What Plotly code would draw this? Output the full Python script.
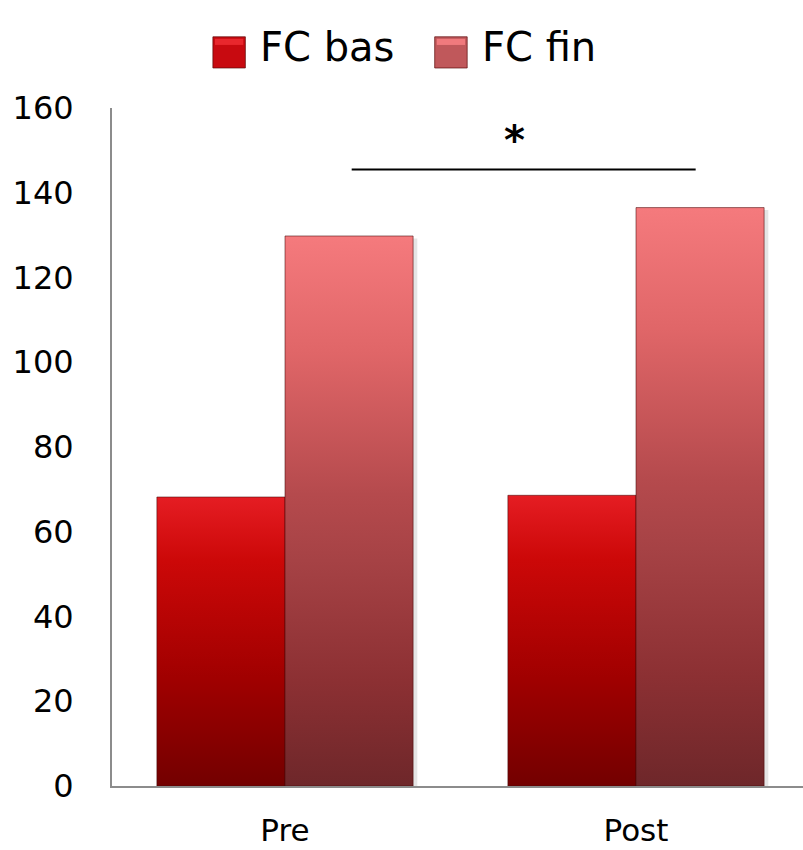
import plotly.graph_objects as go

# --- data -------------------------------------------------------------
categories = ["Pre", "Post"]
series_names = ["FC bas", "FC fin"]
fc_bas = [68.2, 68.6]
fc_fin = [129.8, 136.5]
y_ticks = [0, 20, 40, 60, 80, 100, 120, 140, 160]

# significance bracket between the two "FC fin" groups
sig_x = [0.19, 1.17]
sig_y = 145.5
sig_label = "*"

# --- styling ----------------------------------------------------------
FONT = "DejaVu Sans"
BAR_W = 0.365
bas_scale = [[0.0, "#730000"], [0.37, "#a00000"], [0.78, "#cc0808"], [1.0, "#e51d23"]]
fin_scale = [[0.0, "#6e272a"], [0.19, "#8c3033"], [0.41, "#a64245"], [0.53, "#b54a4d"],
             [0.79, "#e06668"], [1.0, "#f57a7d"]]
EDGE = "rgba(70,10,10,0.55)"
AXIS = "#8c8c8c"

fig = go.Figure()


def add_bar(x0, x1, value, scale):
    # soft drop shadow
    fig.add_trace(go.Scatter(
        x=[x0 + 0.012, x0 + 0.012, x1 + 0.012, x1 + 0.012, x0 + 0.012],
        y=[0, value - 0.6, value - 0.6, 0, 0],
        mode="lines", fill="toself", fillcolor="rgba(0,0,0,0.10)",
        line=dict(width=0), hoverinfo="skip", showlegend=False))
    fig.add_trace(go.Scatter(
        x=[x0, x0, x1, x1, x0], y=[0, value, value, 0, 0],
        mode="lines", fill="toself",
        fillgradient=dict(type="vertical", colorscale=scale, start=0, stop=value),
        line=dict(color=EDGE, width=1), hoverinfo="skip", showlegend=False))


for i, cat in enumerate(categories):
    add_bar(i - BAR_W, i, fc_bas[i], bas_scale)
    add_bar(i, i + BAR_W, fc_fin[i], fin_scale)

# significance bracket
fig.add_shape(type="line", xref="x", yref="y", x0=sig_x[0], x1=sig_x[1],
              y0=sig_y, y1=sig_y, line=dict(color="black", width=2))
fig.add_annotation(x=0.655, y=sig_y + 1, xref="x", yref="y",
                   text="<b>" + sig_label + "</b>", showarrow=False, yanchor="bottom",
                   font=dict(family=FONT, size=40, color="black"))

# legend drawn as swatches + labels above the plot
legend_items = [
    (series_names[0], 0.146, "#c80a10", "#e8272d"),
    (series_names[1], 0.467, "#c0585b", "#f07a7d"),
]
for name, x0, col, top in legend_items:
    fig.add_shape(type="rect", xref="paper", yref="paper", x0=x0, x1=x0 + 0.047,
                  y0=1.059, y1=1.105, fillcolor=col, line=dict(color="rgba(90,10,10,0.7)", width=1))
    fig.add_shape(type="rect", xref="paper", yref="paper", x0=x0 + 0.003, x1=x0 + 0.044,
                  y0=1.093, y1=1.102, fillcolor=top, line=dict(width=0))
    fig.add_annotation(x=x0 + 0.065, y=1.09, xref="paper", yref="paper", text=name,
                       showarrow=False, xanchor="left", yanchor="middle",
                       font=dict(family=FONT, size=40, color="black"))

fig.update_layout(
    width=803, height=850,
    margin=dict(l=112, r=0, t=108, b=64, autoexpand=False),
    paper_bgcolor="white", plot_bgcolor="white",
    showlegend=False,
    font=dict(family=FONT, color="black"),
    xaxis=dict(range=[-0.4929, 1.4758], tickmode="array", tickvals=[0, 1],
               ticktext=categories, showgrid=False, zeroline=False, automargin=False,
               showline=True, linecolor=AXIS, linewidth=2, ticks="",
               ticklabelstandoff=16, tickfont=dict(family=FONT, size=31, color="black")),
    yaxis=dict(range=[0, 160], tickmode="array", tickvals=y_ticks, automargin=False,
               showgrid=False, zeroline=False, showline=True, linecolor=AXIS,
               linewidth=2, ticks="", ticklabelstandoff=30,
               tickfont=dict(family=FONT, size=32, color="black")),
)

fig.write_html("out.html")
